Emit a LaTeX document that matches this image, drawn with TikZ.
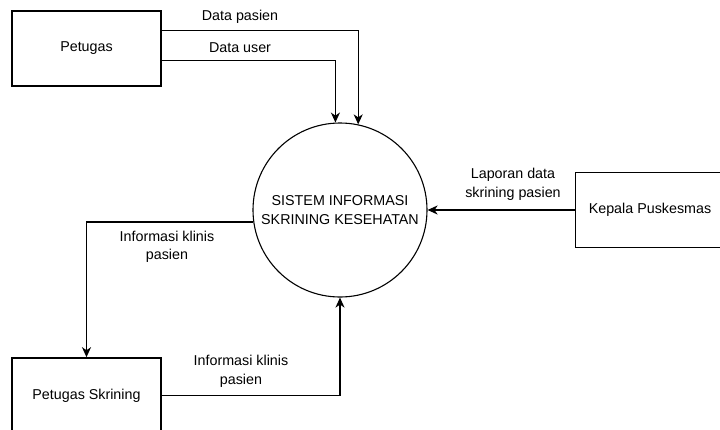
\documentclass[tikz,border=0pt]{standalone}
\usepackage{fontspec}
\setmainfont{Liberation Sans}
\usetikzlibrary{arrows.meta}

\tikzset{
	entity/.style={draw, line width=1.6pt, minimum width=149pt, minimum height=75pt, inner sep=0pt},
	process/.style={draw, circle, line width=1.1pt, minimum size=174pt, inner sep=0pt, align=center},
	flow/.style={line width=1.4pt, -{Stealth[length=10pt,width=9pt,inset=3pt]}},
	lbl/.style={align=center, inner sep=0pt}
}

\begin{document}
\begin{tikzpicture}[x=1pt,y=-1pt,font=\fontsize{14.3}{18.5}\selectfont]

\clip (0,0) rectangle (720,429);

\node [entity]  (petugas)  at (86.5,48.5) {Petugas};
\node [entity]  (kepala)   at (650,210) {Kepala Puskesmas};
\node [entity]  (skrining) at (86.5,395.5) {Petugas Skrining};
\node [process] (sis)      at (340,210) {SISTEM INFORMASI\\SKRINING KESEHATAN};

\draw [flow] ([yshift=-20pt]petugas.north east) -| (sis.78);
\draw [flow] ([yshift=-50pt]petugas.north east) -| (sis.93);
\draw [flow] (kepala.west) -- (kepala.west -| sis.east);
\draw [flow] (sis.188) -| (skrining.north);
\draw [flow] (skrining.east) -| (sis.south);

\node [lbl] (lpasien) at (240,17) {Data pasien};
\node [lbl] (luser)   at (240,48) {Data user};
\node [lbl] (llapor)  at (513,184.5) {Laporan data\\skrining pasien};
\node [lbl] (lklinis) at (167,247) {Informasi klinis\\pasien};
\node [lbl] (lklinisb) at (241,371.5) {Informasi klinis\\pasien};

\end{tikzpicture}
\end{document}
